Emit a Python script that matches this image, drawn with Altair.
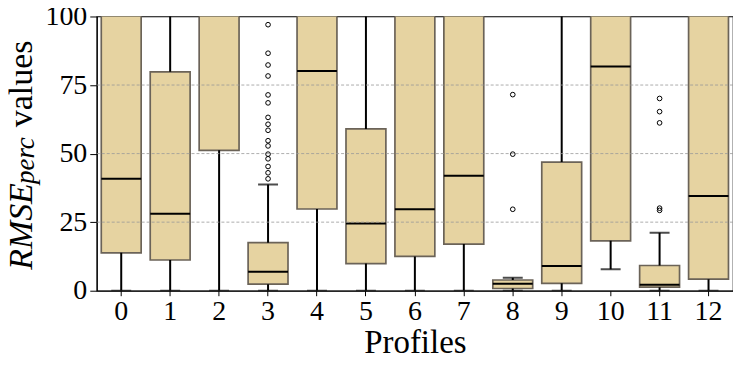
import altair as alt
import pandas as pd

profiles = list(range(13))
q1 = [13.8, 11.2, 51.2, 2.4, 29.8, 9.9, 12.5, 17.0, 0.8, 2.7, 18.2, 1.3, 4.2]
medians = [40.8, 28.1, 112.0, 6.9, 80.1, 24.5, 29.7, 41.9, 2.5, 9.0, 81.8, 2.2, 34.5]
q3 = [130.0, 79.8, 150.0, 17.5, 140.0, 59.0, 125.0, 120.0, 3.9, 46.9, 135.0, 9.2, 110.0]
whisker_low = [0, 0, 0, 0, 0, 0, 0, 0, 0, 0, 7.8, 0, 0]
whisker_high = [200.0, 160.0, 200.0, 38.7, 200.0, 130.0, 200.0, 200.0, 4.7, 110.0, 200.0, 21.1, 200.0]

outlier_profile = [3] * 16 + [8] * 3 + [11] * 5
outlier_value = [97.0, 86.6, 82.3, 78.3, 71.4, 68.5, 63.2, 60.7, 58.5, 54.7, 52.8, 49.8,
                 48.1, 45.3, 43.0, 40.8,
                 71.5, 49.8, 29.7,
                 70.1, 65.3, 61.2, 30.1, 29.3]

grid_values = [25, 50, 75]
y_ticks = [0, 25, 50, 75, 100]

FONT = "'Liberation Serif', 'Times New Roman', Times, serif"
FILL = "#e6d3a1"
EDGE = "#6b6358"

boxes = pd.DataFrame({"profile": profiles, "q1": q1, "median": medians, "q3": q3,
                      "lo": whisker_low, "hi": whisker_high})
outliers = pd.DataFrame({"profile": outlier_profile, "value": outlier_value})
grid = pd.DataFrame({"v": grid_values})

xscale = alt.Scale(domain=profiles, paddingInner=0, paddingOuter=0)
yscale = alt.Scale(domain=[0, 100], nice=False, zero=False)

X = alt.X("profile:O", scale=xscale,
          axis=alt.Axis(title="Profiles", labelAngle=0, labelFont=FONT, labelFontSize=28,
                        labelColor="black", titleFont=FONT, titleFontSize=33,
                        titleFontWeight="normal", titleColor="black", tickSize=5,
                        tickColor="black", domainColor="black", labelPadding=2,
                        titlePadding=1))

base = alt.Chart(boxes)

box = base.mark_bar(size=40, fill=FILL, stroke=EDGE, strokeWidth=1.7, clip=True).encode(
    x=X,
    y=alt.Y("q1:Q", scale=yscale,
            axis=alt.Axis(title=None, values=y_ticks, labelFont=FONT, labelFontSize=28,
                          labelColor="black", tickSize=7, tickColor="black",
                          domainColor="black", grid=False, labelPadding=3)),
    y2="q3:Q",
)

wlow = base.mark_rule(color="black", strokeWidth=2, clip=True).encode(
    x="profile:O", y="lo:Q", y2="q1:Q")
whigh = base.mark_rule(color="black", strokeWidth=2, clip=True).encode(
    x="profile:O", y="q3:Q", y2="hi:Q")
cap_lo = base.mark_tick(size=20, thickness=2, color="black", clip=True).encode(
    x="profile:O", y="lo:Q")
cap_hi = base.mark_tick(size=20, thickness=2, color="black", clip=True).encode(
    x="profile:O", y="hi:Q")
med = base.mark_tick(size=40, thickness=2, color="black", clip=True, opacity=1).encode(
    x="profile:O", y="median:Q")

grid_rules = alt.Chart(grid).mark_rule(color="#999999", strokeDash=[3, 2],
                                       strokeWidth=0.9, opacity=0.9).encode(y="v:Q")

pts = alt.Chart(outliers).mark_point(shape="circle", size=22, filled=False,
                                     color="black", strokeWidth=1, opacity=1).encode(
    x="profile:O", y="value:Q")

t_rmse = alt.Chart(pd.DataFrame({"t": ["RMSE"]})).mark_text(
    angle=270, align="left", baseline="alphabetic", font=FONT, fontSize=34,
    fontStyle="italic", color="black").encode(
    text="t:N", x=alt.value(-65), y=alt.value(254))
t_perc = alt.Chart(pd.DataFrame({"t": ["perc"]})).mark_text(
    angle=270, align="left", baseline="alphabetic", font=FONT, fontSize=27,
    fontStyle="italic", color="black").encode(
    text="t:N", x=alt.value(-63), y=alt.value(168))
t_values = alt.Chart(pd.DataFrame({"t": ["values"]})).mark_text(
    angle=270, align="left", baseline="alphabetic", font=FONT, fontSize=34,
    color="black").encode(
    text="t:N", x=alt.value(-65), y=alt.value(111))

chart = alt.layer(box, wlow, whigh, cap_lo, cap_hi, med, grid_rules, pts,
                  t_rmse, t_perc, t_values).properties(
    width=638, height=275,
    autosize=alt.AutoSizeParams(type="none"),
    padding={"left": 89, "top": 8, "right": 0, "bottom": 75},
).configure_view(stroke="black", strokeWidth=1.2)

chart.save("out.html", embed_options={"renderer": "svg", "actions": False})
